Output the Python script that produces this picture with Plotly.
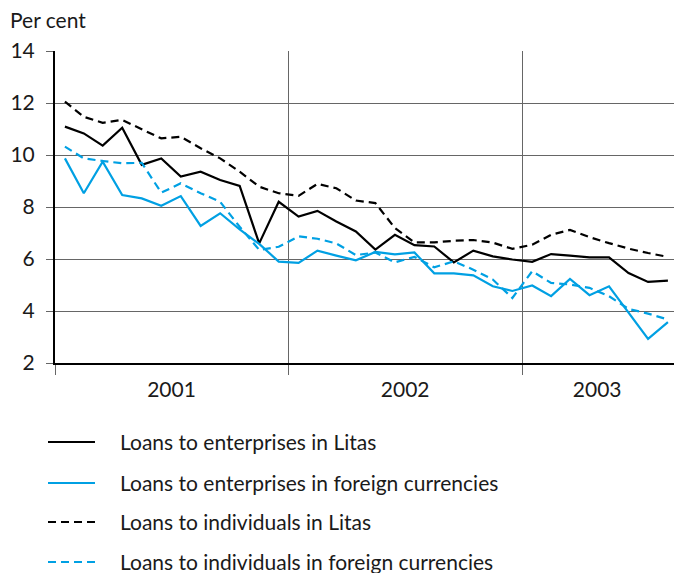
import plotly.graph_objects as go

months = [f"{y}-{m:02d}-01" for y in (2001, 2002) for m in range(1, 13)] + \
         [f"2003-{m:02d}-01" for m in range(1, 9)]

ent_litas = [11.09, 10.83, 10.36, 11.05, 9.62, 9.87, 9.17, 9.36, 9.04, 8.81, 6.60, 8.20,
             7.63, 7.85, 7.44, 7.06, 6.36, 6.93, 6.53, 6.48, 5.87, 6.32, 6.10, 5.98,
             5.89, 6.19, 6.13, 6.06, 6.06, 5.46, 5.12, 5.17]
ent_fx = [9.87, 8.53, 9.74, 8.46, 8.33, 8.05, 8.42, 7.27, 7.76, 7.14, 6.58, 5.90,
          5.85, 6.32, 6.13, 5.95, 6.27, 6.18, 6.25, 5.45, 5.45, 5.37, 4.95, 4.77,
          4.98, 4.57, 5.23, 4.61, 4.95, 3.96, 2.93, 3.57]
ind_litas = [12.05, 11.47, 11.24, 11.35, 10.99, 10.64, 10.70, 10.26, 9.87, 9.36, 8.78, 8.53,
             8.43, 8.89, 8.72, 8.25, 8.15, 7.19, 6.64, 6.64, 6.70, 6.73, 6.63, 6.39,
             6.55, 6.93, 7.12, 6.84, 6.61, 6.40, 6.23, 6.08]
ind_fx = [10.32, 9.87, 9.77, 9.68, 9.70, 8.55, 8.91, 8.53, 8.20, 7.24, 6.35, 6.47,
          6.87, 6.78, 6.60, 6.15, 6.25, 5.87, 6.08, 5.68, 5.91, 5.59, 5.21, 4.50,
          5.53, 5.08, 5.02, 4.89, 4.57, 4.08, 3.90, 3.67]

series_names = ["Loans to enterprises in Litas",
                "Loans to enterprises in foreign currencies",
                "Loans to individuals in Litas",
                "Loans to individuals in foreign currencies"]

year_bounds = ["2001-01-01", "2002-01-01", "2003-01-01"]
year_label_pos = ["2001-07-02", "2002-07-02", "2003-04-28"]
year_labels = ["2001", "2002", "2003"]
y_ticks = [2, 4, 6, 8, 10, 12, 14]

BLUE = "#00a0e3"
TXT = "#1a1a1a"
FONT = "Lato"
FS = 21
x_range = ["2001-01-01", "2003-08-26"]

fig = go.Figure()
styles = [("black", "solid"), (BLUE, "solid"), ("black", "8px,5px"), (BLUE, "8px,5px")]
for name, vals, (col, dash) in zip(series_names, [ent_litas, ent_fx, ind_litas, ind_fx], styles):
    fig.add_trace(go.Scatter(
        x=months, y=vals, name=name, mode="lines",
        xperiod="M1", xperiodalignment="middle",
        line=dict(color=col, width=2.2, dash=dash),
        showlegend=False,
    ))

# invisible trace on second x-axis for year labels
fig.add_trace(go.Scatter(x=[x_range[0]], y=[2], xaxis="x2", showlegend=False,
                         mode="markers", marker=dict(opacity=0), hoverinfo="skip"))

# manual legend (paper coordinates)
shapes = []
annotations = []
legend_rows_y = [-0.2532, -0.3846, -0.5096, -0.6378]
for name, (col, dash), ly in zip(series_names, styles, legend_rows_y):
    shapes.append(dict(type="line", xref="paper", yref="paper",
                       x0=-0.0113, x1=0.0646, y0=ly, y1=ly,
                       line=dict(color=col, width=2.2, dash=dash)))
    annotations.append(dict(text=name, xref="paper", yref="paper",
                            x=0.1018, y=ly, xanchor="left", yanchor="middle",
                            showarrow=False, font=dict(size=FS, family=FONT, color=TXT)))

annotations.append(dict(
    text="Per cent", xref="paper", yref="paper",
    x=-0.076, y=1.1, xanchor="left", yanchor="middle",
    showarrow=False, font=dict(size=FS, family=FONT, color=TXT),
))

fig.update_layout(
    width=674, height=573,
    margin=dict(l=55, r=0, t=51, b=210),
    paper_bgcolor="white", plot_bgcolor="white",
    font=dict(family=FONT, size=FS, color=TXT),
    showlegend=False,
    xaxis=dict(
        type="date", range=x_range,
        tickvals=year_bounds, showticklabels=False,
        ticks="outside", ticklen=10, tickcolor="#666", tickwidth=1,
        showgrid=True, gridcolor="#666", gridwidth=1,
        showline=True, linecolor="black", linewidth=2,
        zeroline=False, fixedrange=True, automargin=False,
    ),
    xaxis2=dict(
        type="date", range=x_range, overlaying="x", side="bottom",
        tickvals=year_label_pos, ticktext=year_labels,
        ticks="", showgrid=False, showline=False, zeroline=False,
        tickfont=dict(size=FS, family=FONT, color=TXT),
        ticklabelstandoff=12, automargin=False,
    ),
    yaxis=dict(
        range=[2, 14], tickvals=y_ticks,
        ticks="outside", ticklen=7, tickcolor="#666", tickwidth=1,
        showgrid=True, gridcolor="#666", gridwidth=1,
        showline=True, linecolor="black", linewidth=2,
        zeroline=False, ticklabelstandoff=7, automargin=False,
        tickfont=dict(size=FS, family=FONT, color=TXT),
    ),
    shapes=shapes,
    annotations=annotations,
)

fig.write_html(
    "out.html",
    config={"displayModeBar": False},
    post_script="document.body.style.margin='0';document.body.style.overflow='hidden';",
)
